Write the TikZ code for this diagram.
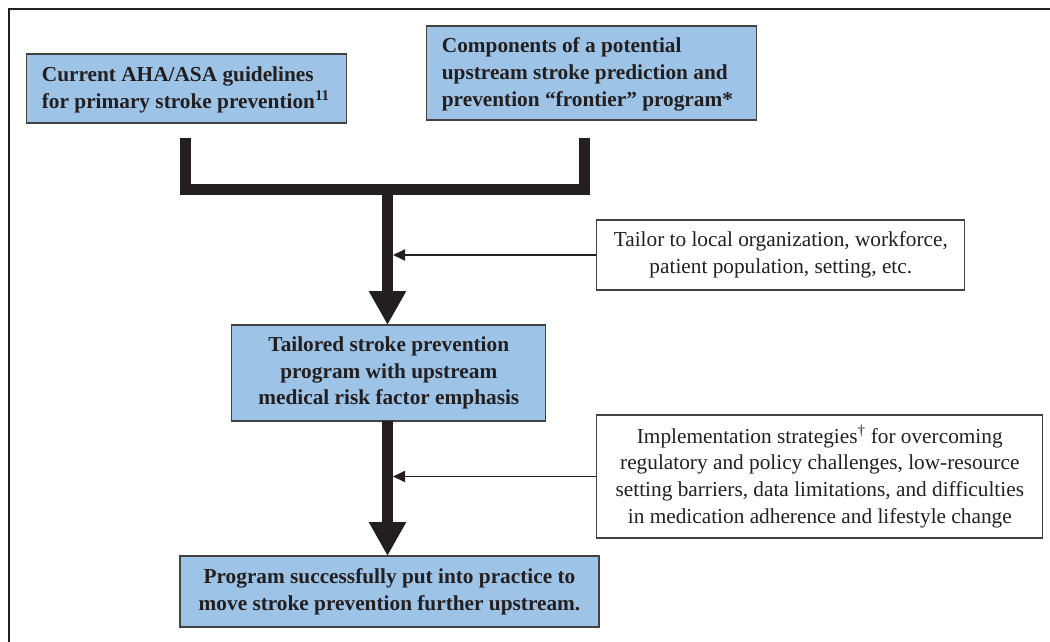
\documentclass[tikz,border=0pt]{standalone}
\usepackage{fontspec}
\setmainfont{Liberation Serif}
\usetikzlibrary{arrows.meta}
\definecolor{boxblue}{RGB}{157,195,230}
\definecolor{ink}{RGB}{35,31,32}
\begin{document}
\begin{tikzpicture}[x=1pt,y=-1pt,
  txt/.style={font=\fontsize{21.3}{26.7}\selectfont, text=ink},
  bluebox/.style={txt, draw=ink!85, line width=1.2pt, fill=boxblue, font=\bfseries\fontsize{21.3}{26.7}\selectfont, inner sep=0pt, anchor=center},
  whitebox/.style={txt, draw=ink!85, line width=1.2pt, fill=white, inner sep=0pt, anchor=center, align=center},
  thickbar/.style={draw=ink, line width=11pt, line join=miter, line cap=butt},
  bigarrow/.style={draw=ink, line width=11pt, -{Triangle[width=35pt,length=34pt]}},
  thinarrow/.style={draw=ink, line width=1.9pt, -{Triangle[width=11pt,length=12pt]}}
]
\useasboundingbox (0,0) rectangle (1050,642);
% outer frame
\draw[ink, line width=2.2pt] (9,650) -- (9,9) -- (1060,9);

% boxes
\node[bluebox, minimum width=320pt, minimum height=69pt] (A) at (186.8,88.5) {};
\node[txt, font=\bfseries\fontsize{21.3}{26.7}\selectfont, anchor=west, align=left, inner sep=0pt] (At) at (41.7,90)
  {Current AHA/ASA guidelines\\for primary stroke prevention\textsuperscript{11}};

\node[bluebox, minimum width=330pt, minimum height=94pt] (B) at (591.8,73) {};
\node[txt, font=\bfseries\fontsize{21.3}{26.7}\selectfont, anchor=west, align=left, inner sep=0pt] (Bt) at (441.7,74.5)
  {Components of a potential\\upstream stroke prediction and\\prevention “frontier” program*};

\node[whitebox, minimum width=368pt, minimum height=70pt] (T1) at (780.8,255)
  {Tailor to local organization, workforce,\\patient population, setting, etc.};

\node[bluebox, align=center, minimum width=314pt, minimum height=96pt] (C) at (388.8,373)
  {Tailored stroke prevention\\program with upstream\\medical risk factor emphasis};

\node[whitebox, minimum width=446pt, minimum height=123pt] (T2) at (819.8,476.5)
  {Implementation strategies\textsuperscript{†} for overcoming\\regulatory and policy challenges, low-resource\\setting barriers, data limitations, and difficulties\\in medication adherence and lifestyle change};

\node[bluebox, align=center, minimum width=419pt, minimum height=71pt] (D) at (389.5,591.5)
  {Program successfully put into practice to\\move stroke prevention further upstream.};

% joining bars
\coordinate (a1) at (185.5,138);
\coordinate (a2) at (185.5,189.5);
\coordinate (b2) at (584.5,189.5);
\coordinate (b1) at (584.5,138);
\draw[thickbar] (a1) -- (a2) -- (b2) -- (b1);

\coordinate (m1) at (387.5,189.5);
\coordinate (m1end) at (387.5,325);
\draw[bigarrow] (m1) -- (m1end);

\coordinate (m2) at (387.5,421);
\coordinate (m2end) at (387.5,556);
\draw[bigarrow] (m2) -- (m2end);

% side arrows
\coordinate (s1) at (393,255);
\coordinate (s2) at (393,476.5);
\draw[thinarrow] (T1.west) -- (s1);
\draw[thinarrow] (T2.west) -- (s2);
\end{tikzpicture}
\end{document}
